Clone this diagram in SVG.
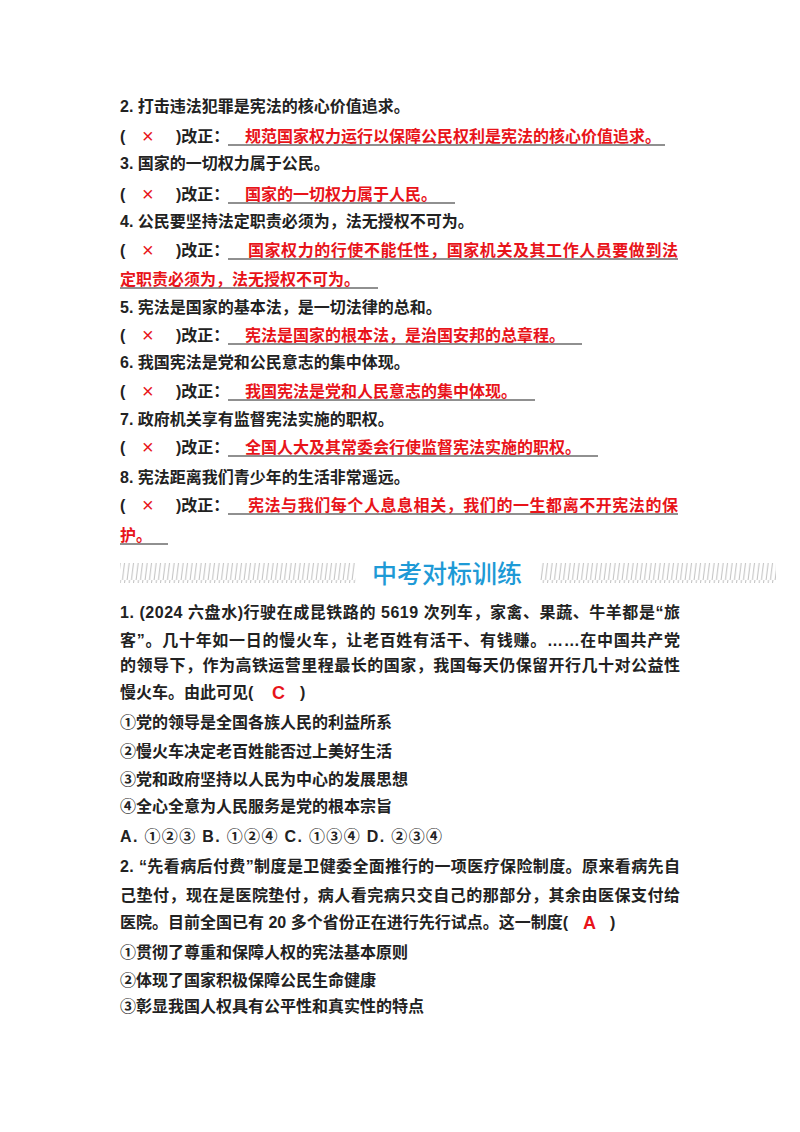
<svg xmlns="http://www.w3.org/2000/svg" width="800" height="1132" viewBox="0 0 800 1132">
<defs>
<style>
text{font-family:"Liberation Sans","Noto Sans CJK SC",sans-serif;font-size:16px;font-weight:bold;fill:#222}
.r{fill:#e8141a;font-weight:normal;font-size:20px}
.t{fill:#e8141a}
.u{stroke:#222;stroke-width:1.2}
.b{font-size:25px;font-weight:500;fill:#1e9ad6}
</style>
<pattern id="h" width="4.5" height="20" patternUnits="userSpaceOnUse"><line x1="3.5" y1="0" x2="1" y2="20" stroke="#aaa" stroke-width="0.8"/></pattern>
</defs>
<rect width="800" height="1132" fill="#fff"/>
<g id="marks">
<text x="120" y="142">(</text><text class="r" x="142" y="143">×</text><text x="176" y="142">)改正：</text>
<text x="120" y="200">(</text><text class="r" x="142" y="201">×</text><text x="176" y="200">)改正：</text>
<text x="120" y="256">(</text><text class="r" x="142" y="257">×</text><text x="176" y="256">)改正：</text>
<text x="120" y="341">(</text><text class="r" x="142" y="342">×</text><text x="176" y="341">)改正：</text>
<text x="120" y="397">(</text><text class="r" x="142" y="398">×</text><text x="176" y="397">)改正：</text>
<text x="120" y="453">(</text><text class="r" x="142" y="454">×</text><text x="176" y="453">)改正：</text>
<text x="120" y="511">(</text><text class="r" x="142" y="512">×</text><text x="176" y="511">)改正：</text>
</g>
<g id="text">
<text x="120" y="112">2. 打击违法犯罪是宪法的核心价值追求。</text>
<text class="t" x="245" y="142">规范国家权力运行以保障公民权利是宪法的核心价值追求。</text><line class="u" x1="228" y1="145" x2="665" y2="145"/>
<text x="120" y="169">3. 国家的一切权力属于公民。</text>
<text class="t" x="245" y="200">国家的一切权力属于人民。</text><line class="u" x1="228" y1="203" x2="455" y2="203"/>
<text x="120" y="227">4. 公民要坚持法定职责必须为，法无授权不可为。</text>
<text class="t" x="248" y="256" textLength="430">国家权力的行使不能任性，国家机关及其工作人员要做到法</text><line class="u" x1="228" y1="259" x2="678" y2="259"/>
<text class="t" x="120" y="285">定职责必须为，法无授权不可为。</text><line class="u" x1="120" y1="288" x2="378" y2="288"/>
<text x="120" y="313">5. 宪法是国家的基本法，是一切法律的总和。</text>
<text class="t" x="245" y="341">宪法是国家的根本法，是治国安邦的总章程。</text><line class="u" x1="228" y1="344" x2="582" y2="344"/>
<text x="120" y="368">6. 我国宪法是党和公民意志的集中体现。</text>
<text class="t" x="245" y="397">我国宪法是党和人民意志的集中体现。</text><line class="u" x1="228" y1="400" x2="535" y2="400"/>
<text x="120" y="425">7. 政府机关享有监督宪法实施的职权。</text>
<text class="t" x="245" y="453">全国人大及其常委会行使监督宪法实施的职权。</text><line class="u" x1="228" y1="456" x2="598" y2="456"/>
<text x="120" y="483">8. 宪法距离我们青少年的生活非常遥远。</text>
<text class="t" x="248" y="511" textLength="430">宪法与我们每个人息息相关，我们的一生都离不开宪法的保</text><line class="u" x1="228" y1="514" x2="678" y2="514"/>
<text class="t" x="120" y="541">护。</text><line class="u" x1="120" y1="544" x2="168" y2="544"/>
</g>
<g id="banner">
<rect x="120" y="563" width="236" height="20" fill="url(#h)"/>
<text class="b" x="372" y="583">中考对标训练</text>
<rect x="540" y="563" width="236" height="20" fill="url(#h)"/>
</g>
<g id="questions">
<text x="120" y="618" textLength="560">1. (2024 六盘水)行驶在成昆铁路的 5619 次列车，家禽、果蔬、牛羊都是“旅</text>
<text x="120" y="646" textLength="560">客”。几十年如一日的慢火车，让老百姓有活干、有钱赚。……在中国共产党</text>
<text x="120" y="671" textLength="560">的领导下，作为高铁运营里程最长的国家，我国每天仍保留开行几十对公益性</text>
<text x="120" y="698">慢火车。由此可见(</text><text class="r" x="272" y="699" style="font-weight:bold;font-size:18px">C</text><text x="300" y="698">)</text>
<text x="120" y="728">①党的领导是全国各族人民的利益所系</text>
<text x="120" y="757">②慢火车决定老百姓能否过上美好生活</text>
<text x="120" y="785">③党和政府坚持以人民为中心的发展思想</text>
<text x="120" y="812">④全心全意为人民服务是党的根本宗旨</text>
<text x="120" y="842" textLength="322">A. ①②③ B. ①②④ C. ①③④ D. ②③④</text>
<text x="120" y="872" textLength="560">2. “先看病后付费”制度是卫健委全面推行的一项医疗保险制度。原来看病先自</text>
<text x="120" y="901" textLength="560">己垫付，现在是医院垫付，病人看完病只交自己的那部分，其余由医保支付给</text>
<text x="120" y="928">医院。目前全国已有 20 多个省份正在进行先行试点。这一制度(</text><text class="r" x="583" y="929" style="font-weight:bold;font-size:18px">A</text><text x="610" y="928">)</text>
<text x="120" y="958">①贯彻了尊重和保障人权的宪法基本原则</text>
<text x="120" y="986">②体现了国家积极保障公民生命健康</text>
<text x="120" y="1012">③彰显我国人权具有公平性和真实性的特点</text>
</g>
</svg>
